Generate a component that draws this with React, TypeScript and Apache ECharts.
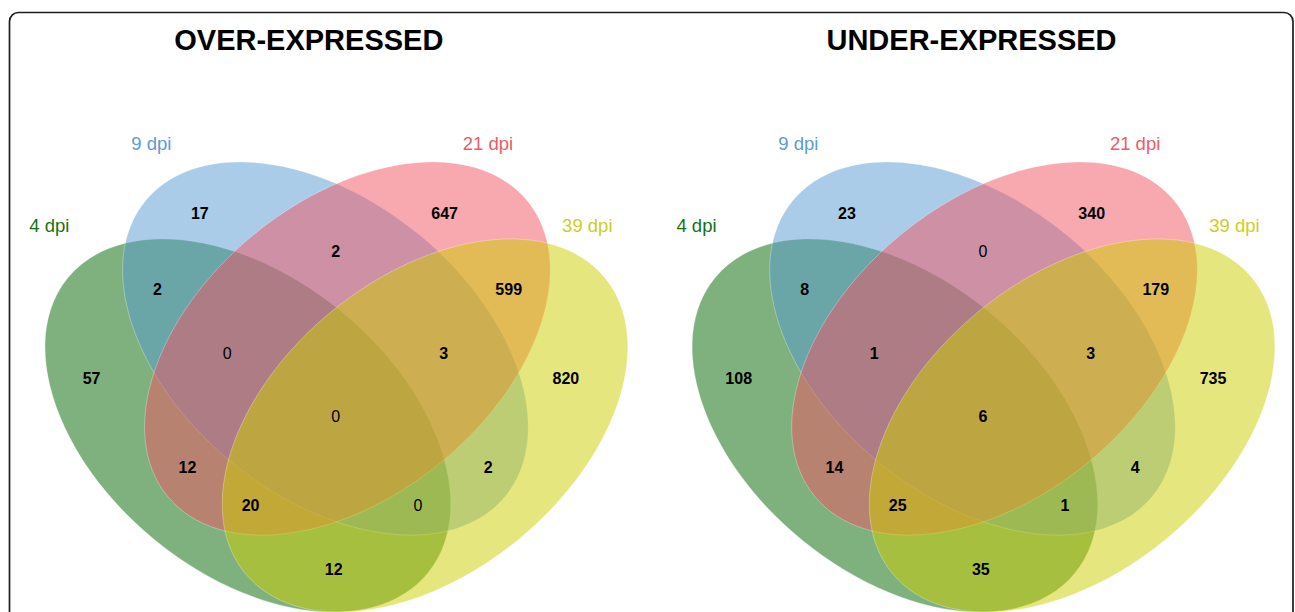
import { useEffect, useRef } from 'react';
import * as echarts from 'echarts';

// Sets compared in each four-way Venn diagram
const SET_NAMES = ['4 dpi', '9 dpi', '21 dpi', '39 dpi'];
const SET_FILLS = ['#006400', '#5599d1', '#ef535f', '#cdcd00'];
const SET_LABEL_COLORS = ['#137313', '#5b9bd5', '#ee5a66', '#cdcd1e'];

const PANEL_TITLES = ['OVER-EXPRESSED', 'UNDER-EXPRESSED'];

// Exclusive regions, named by the sets they belong to
const REGIONS = [
  '4', '9', '21', '39',
  '4&9', '9&21', '21&39', '4&21', '9&39', '4&39',
  '4&9&21', '9&21&39', '4&9&39', '4&21&39',
  '4&9&21&39',
];
const OVER_EXPRESSED = [57, 17, 647, 820, 2, 2, 599, 12, 2, 12, 0, 3, 0, 20, 0];
const UNDER_EXPRESSED = [108, 23, 340, 735, 8, 0, 179, 14, 4, 35, 1, 3, 1, 25, 6];
const PANEL_VALUES = [OVER_EXPRESSED, UNDER_EXPRESSED];

// ---- layout (pixels, relative to each panel's vertical axis of symmetry) ----
const WIDTH = 1295;
const HEIGHT = 612;
const FONT = '"Liberation Sans", Arial, Helvetica, sans-serif';
const PANEL_CX = [336.4, 983.5];
const TITLE_CX = [308.8, 971.5];
const TITLE_Y = 40;
const ELLIPSE_CENTRES: [number, number][] = [
  [-88.6, 425.5],
  [-11, 348.5],
  [11, 348.5],
  [88.6, 425.5],
];
const ELLIPSE_RX = 232.7;
const ELLIPSE_RY = 147.4;
const ELLIPSE_TILT_DEG = [-39.4, -39.4, 39.4, 39.4];
const REGION_LABEL_POS: [number, number][] = [
  [-244.8, 378.6], [-136.6, 213.9], [108.2, 213.9], [229.5, 378.6],
  [-178.9, 289.6], [-0.6, 251.8], [172.3, 289.6], [-149, 467.6], [151.8, 467.6], [-2.7, 569.6],
  [-109.2, 353.2], [107.2, 353.2], [81.5, 505.6], [-85.8, 505.6],
  [-0.6, 416.7],
];
const SET_LABEL_POS: [number, number][] = [
  [-287, 225.5],
  [-185.1, 143],
  [151.6, 143],
  [250.9, 225.5],
];

export default function App() {
  const ref = useRef<HTMLDivElement>(null);

  useEffect(() => {
    if (!ref.current) return;
    const chart = echarts.init(ref.current, undefined, { renderer: 'svg' });

    const ellipseData: number[][] = [];
    const setLabelData: number[][] = [];
    const countData: number[][] = [];
    PANEL_CX.forEach((px, p) => {
      SET_NAMES.forEach((_, i) => {
        ellipseData.push([px + ELLIPSE_CENTRES[i][0], ELLIPSE_CENTRES[i][1], i]);
        setLabelData.push([px + SET_LABEL_POS[i][0], SET_LABEL_POS[i][1], i]);
      });
      REGIONS.forEach((_, r) => {
        countData.push([px + REGION_LABEL_POS[r][0], REGION_LABEL_POS[r][1], PANEL_VALUES[p][r]]);
      });
    });

    chart.setOption({
      animation: false,
      grid: { left: 0, right: 0, top: 0, bottom: 0, containLabel: false },
      xAxis: { type: 'value', min: 0, max: WIDTH, show: false },
      yAxis: { type: 'value', min: 0, max: HEIGHT, inverse: true, show: false },
      graphic: [
        {
          type: 'rect',
          silent: true,
          shape: { x: 9.5, y: 12.5, width: 1283.5, height: 700, r: 9 },
          style: { fill: 'none', stroke: '#1e1e1e', lineWidth: 1.7 },
        },
        ...PANEL_TITLES.map((t, p) => ({
          type: 'text',
          silent: true,
          x: TITLE_CX[p],
          y: TITLE_Y,
          style: {
            text: t,
            fill: '#000',
            fontSize: 29,
            fontWeight: 'bold',
            fontFamily: FONT,
            align: 'center',
            verticalAlign: 'middle',
            textAlign: 'center',
            textVerticalAlign: 'middle',
          },
        })),
      ],
      series: [
        {
          type: 'custom',
          name: 'sets',
          silent: true,
          data: ellipseData,
          encode: { x: 0, y: 1 },
          renderItem: (_params: any, api: any) => {
            const i = api.value(2);
            const [x, y] = api.coord([api.value(0), api.value(1)]);
            const [rx, ry] = api.size([ELLIPSE_RX, ELLIPSE_RY]);
            return {
              type: 'ellipse',
              x,
              y,
              rotation: (ELLIPSE_TILT_DEG[i] * Math.PI) / 180,
              shape: { cx: 0, cy: 0, rx: Math.abs(rx), ry: Math.abs(ry) },
              style: {
                fill: echarts.color.modifyAlpha(SET_FILLS[i], 0.5),
                stroke: 'rgba(255,255,255,0.35)',
                lineWidth: 0.8,
              },
            };
          },
          z: 2,
        },
        {
          type: 'custom',
          name: 'set labels',
          silent: true,
          data: setLabelData,
          encode: { x: 0, y: 1 },
          renderItem: (_params: any, api: any) => {
            const i = api.value(2);
            const [x, y] = api.coord([api.value(0), api.value(1)]);
            return {
              type: 'text',
              x,
              y,
              style: {
                text: SET_NAMES[i],
                fill: SET_LABEL_COLORS[i],
                fontSize: 18.5,
                fontFamily: FONT,
                align: 'center',
                verticalAlign: 'middle',
              },
            };
          },
          z: 3,
        },
        {
          type: 'custom',
          name: 'counts',
          silent: true,
          data: countData,
          encode: { x: 0, y: 1 },
          renderItem: (_params: any, api: any) => {
            const v = api.value(2);
            const [x, y] = api.coord([api.value(0), api.value(1)]);
            return {
              type: 'text',
              x,
              y,
              style: {
                text: String(v),
                fill: '#000',
                fontSize: 16,
                fontWeight: v === 0 ? 'normal' : 'bold',
                fontFamily: FONT,
                align: 'center',
                verticalAlign: 'middle',
              },
            };
          },
          z: 4,
        },
      ],
    });

    return () => chart.dispose();
  }, []);

  return (
    <div
      ref={ref}
      style={{ position: 'absolute', left: 0, top: 0, width: WIDTH, height: HEIGHT, background: '#fff' }}
    />
  );
}
